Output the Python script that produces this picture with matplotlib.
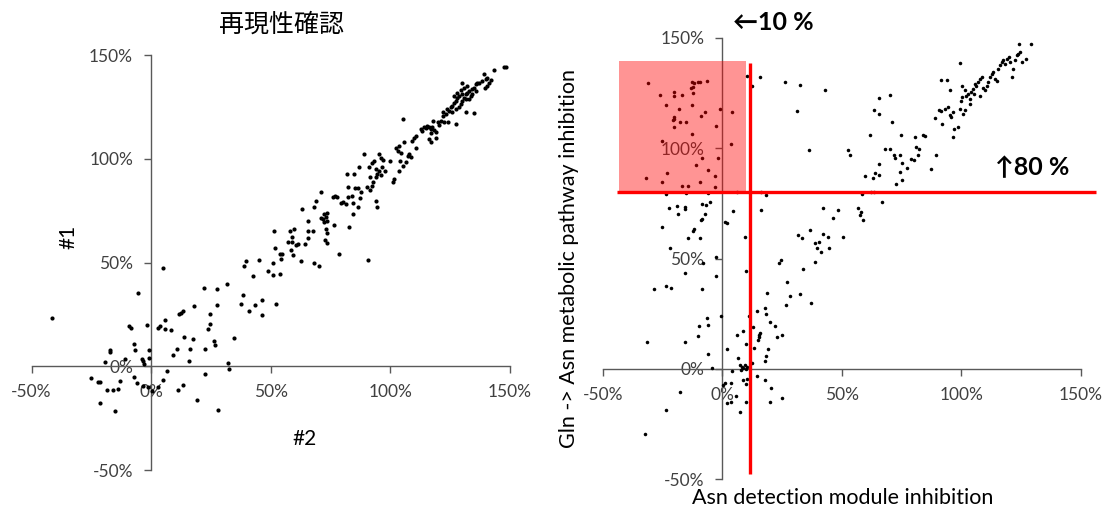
import matplotlib
matplotlib.use("Agg")
import matplotlib.pyplot as plt
from matplotlib.patches import Rectangle

plt.rcParams['font.family'] = ['Lato', 'Noto Sans CJK JP', 'DejaVu Sans']

# Shared axis ticks (percent)
TICKS = [-50, 0, 50, 100, 150]
TICK_LABELS = ['-50%', '0%', '50%', '100%', '150%']

# Reproducibility check: replicate #2 (x) vs replicate #1 (y), in %
rep2 = [
    4.9, -5.6, -41.5, -9.1, -8.5, -1.8, 2.8, 3.9, 5.8, 5.6, 8.1, 11.5, 12.5, 13.2, 18.1,
    22.3, 27.6, 31.6, 24.8, 24.8, 23.6, 27.6, 38.2, 37.4, 41.0, 43.5, 42.4, 39.0, 39.7, 44.9,
    13.8, 17.4, 26.4, 26.8, 34.8, 10.7, 16.4, 22.7, 9.2, 16.0, 32.1, 32.7, 6.7, 4.9, 13.2,
    11.3, 22.7, 19.0, 28.0, -1.0, -1.0, -3.9, -3.5, -2.8, -7.0, -6.6, -17.0, -17.0, -11.1,
    -19.1, -7.0, -5.8, -3.2, -1.4, 0.4, 2.8, -13.2, -13.8, -16.0, -18.5, -25.3, -22.0, -21.2,
    -21.2, -15.3,
    46.2, 46.2, 52.4, 48.9, 50.9, 54.0, 50.9, 53.9, 54.5, 54.3, 51.4, 51.6, 58.2, 59.8, 58.9,
    57.3, 58.7, 60.5, 61.5, 58.5, 59.4, 62.5, 62.9, 65.5, 65.7, 67.8, 65.7, 64.4, 68.2, 70.3,
    68.2, 69.1, 71.2, 73.5, 72.4, 71.0, 71.9, 73.1, 72.4, 73.7, 73.1, 73.7, 72.8, 73.5, 76.5,
    78.6, 82.8, 76.1, 77.0, 77.7, 79.3, 80.3, 81.4, 82.3, 83.9, 84.5, 86.4, 84.3, 82.4, 85.3,
    86.4, 87.9, 87.5, 81.8, 84.9, 89.1, 87.0, 90.4, 91.4, 92.5, 92.8, 91.6, 94.2, 94.4, 90.7,
    91.1, 92.3, 93.2, 95.3, 96.0, 97.1, 93.9, 95.3, 96.4, 94.6, 96.0, 97.8, 99.8, 93.9, 100.9,
    101.5, 103.4,
    102.3, 103.0, 104.4, 103.4, 105.8, 104.0, 105.1, 106.5, 107.2, 107.9, 108.6, 105.1, 109.2,
    109.9, 110.6, 110.9,
    112.7, 113.4, 114.1, 114.8, 115.5, 116.2, 116.9, 117.6, 118.3, 119.0, 116.9, 116.2, 116.9,
    119.0, 117.9, 119.7, 121.1, 122.5, 123.9, 121.8, 120.3, 127.6,
    121.8, 123.4, 124.6, 125.3, 125.9, 126.6, 127.3, 128.0, 128.7, 129.4, 130.1, 130.8, 131.5,
    132.2, 132.9, 133.6, 134.3, 135.0, 135.7, 136.4, 123.8, 125.7, 127.3, 128.7, 130.1, 131.5,
    132.9, 134.3, 135.7, 126.6, 128.0, 129.4, 130.8, 132.2, 131.8, 135.0, 129.9,
    137.1, 138.5, 139.9, 139.2, 140.5, 141.2, 142.0, 140.5, 139.5, 143.3, 147.5, 148.2,
]
rep1 = [
    47.4, 35.4, 23.4, 19.2, 18.6, 19.7, 18.6, 19.4, 22.1, 18.1, 17.3, 25.0, 25.8, 26.4, 28.8,
    37.8, 37.2, 39.8, 25.3, 20.5, 18.1, 29.5, 34.5, 30.1, 26.4, 29.5, 43.3, 48.1, 50.5, 51.0,
    14.3, 13.1, 12.2, 10.2, 13.8, 8.3, 8.3, 8.3, 5.3, 2.4, 1.8, -1.3, -2.4, -6.7, -9.1,
    -11.4, -3.7, -16.3, -21.2, 7.7, 4.2, 3.7, 2.5, 1.0, 10.9, 7.7, 7.7, 6.7, 3.7,
    1.9, -5.1, -8.0, -9.5, -9.9, -12.0, -9.9, -7.2, -11.1, -11.4, -11.4, -5.9, -7.8, -7.8,
    -17.5, -21.6,
    31.7, 24.7, 30.1, 45.7, 43.9, 44.4, 49.9, 54.2, 54.2, 51.6, 65.4, 57.1, 65.4, 66.0, 62.5,
    60.1, 60.1, 58.5, 59.0, 55.8, 53.4, 50.5, 75.6, 69.9, 65.4, 65.4, 62.0, 59.0, 49.9, 48.1,
    76.9, 79.8, 84.1, 74.0, 73.4, 71.5, 70.8, 71.8, 69.4, 70.2, 66.2, 64.3, 60.9, 59.6, 67.9,
    54.2, 67.3, 81.4, 82.2, 81.7, 78.7, 79.3, 78.2, 81.4, 82.2, 78.7, 76.9, 73.4, 86.5, 85.9,
    85.9, 84.1, 81.0, 92.6, 92.6, 102.3, 96.2, 86.2, 85.0, 87.0, 88.6, 91.3, 79.8, 76.9, 51.0,
    96.2, 98.1, 99.0, 102.3, 100.6, 99.4, 95.1, 94.2, 95.8, 92.6, 92.2, 94.2, 98.7, 91.0, 88.6,
    90.2, 94.2,
    105.4, 103.8, 103.0, 106.3, 108.3, 99.0, 96.6, 98.2, 101.4, 102.3, 101.0, 119.1, 108.7,
    110.2, 111.1, 105.4,
    114.3, 113.5, 115.4, 114.8, 115.9, 115.1, 114.3, 115.4, 113.8, 112.7, 112.2, 109.5, 107.9,
    110.0, 118.3, 117.5, 118.0, 117.5, 117.5, 120.7, 116.3, 116.7,
    122.3, 121.5, 123.1, 124.7, 125.5, 127.1, 127.9, 129.5, 130.3, 126.3, 127.9, 129.5, 131.1,
    131.9, 132.7, 130.3, 131.4, 134.3, 135.9, 136.7, 123.9, 122.3, 123.9, 124.7, 131.1, 128.7,
    128.7, 133.5, 132.7, 130.3, 131.9, 133.0, 134.0, 135.1, 122.3, 122.0, 136.4,
    136.7, 137.5, 138.3, 140.7, 139.1, 136.7, 137.8, 135.1, 134.3, 142.6, 144.2, 144.2,
]

# Asn detection module inhibition (x) vs Gln -> Asn pathway inhibition (y), in %
asn = [
    -31.1, -25.9, -23.7, -20.3, -20.0, -16.8, -17.9, -20.3, -20.0, -20.6, -17.5, -15.1, -20.0,
    -12.6, -11.9, -12.2, -12.9, -10.1, -9.1, -6.5, -12.2, -12.6, -7.3, -8.8, -1.1, 4.3, -2.8,
    -12.6, 3.5, -25.0, -8.4, -1.7, -10.9, -5.9, -23.1, -31.8, -25.2, -3.1, -9.1, -16.8, -14.3,
    -3.1,
    -23.7, -15.1, -5.9, 6.3, 10.5, 12.6, 15.8, -22.1, -18.9, -15.7, -15.7, -18.5, -8.4, -6.7,
    -4.9, -7.3, -8.8, -8.4, -25.0, -12.4, -11.6, -14.3, -9.1, 1.1, 2.1, 4.6, 9.4, -21.7, -2.8,
    -8.2, -15.7, -2.8, 10.1, -28.4, -23.7, -21.6, -8.4, -6.3, -5.9, -9.7, -10.1, -0.7, -15.7,
    -31.5, -5.9, -4.2, 2.1, 6.3, 8.8, 6.7, 7.4, 8.4, 9.4, 8.8, 9.8, 10.5, 8.0, 10.1, 11.1,
    13.0, 13.3, 12.6, 14.7, 15.4, 15.5, 15.1, 15.8, 17.8, 18.5, 18.9, 19.3, 18.5, 17.8, 20.0,
    22.0, 22.9, 25.2, 26.9, 28.4, 32.5, 27.3, 23.8, 24.5,
    1.0, 0.4, 3.5, 5.6, 2.1, 3.5, 7.4, 9.9, 8.8, 9.9, 10.5, 14.7, 17.8, 20.6, 20.0, 25.2,
    -17.5, -23.7, -32.5, 3.9,
    36.4, 52.5, 53.6, 68.3, 70.4, 71.8, 72.5, 74.5, 75.2, 77.3, 78.8, 80.3, 81.9, 82.2, 74.2,
    75.2, 72.8, 89.3, 87.2, 65.5, 59.9, 63.0, 64.1, 65.8, 62.3, 63.4, 58.4, 16.1, 18.2, 66.8,
    16.1, 56.7, 58.1, 57.7, 58.8, 42.0, 48.3, 46.2, 36.8, 31.9, 33.2, 42.0, 44.1, 50.4, 38.9,
    40.6, 39.5, 41.4, 44.7, 34.0, 38.8, 37.2,
    89.2, 90.6, 91.4, 92.0, 93.4, 94.5, 95.2, 95.9, 96.6, 97.1, 96.6, 98.7, 99.4, 99.9, 100.8,
    101.5, 100.4, 101.8, 102.9, 103.6, 104.3, 105.0, 105.7, 106.4, 107.1, 107.8, 108.5, 109.2,
    109.9, 110.6, 111.3, 112.0, 112.7, 113.4, 114.1, 114.8, 115.5, 116.2, 116.9, 117.6, 118.3,
    119.0, 120.1, 120.4, 121.1, 121.8, 122.5, 123.2, 123.9, 124.6, 125.3, 127.0, 124.2, 129.3,
    99.4, 91.4, 94.1, 95.2, 100.4, 101.5, 103.6, 105.5, 107.8,
    74.9, 80.8, 84.0, 85.0, 81.2,
    26.4, 32.6, 43.1, 31.4, 65.6, 70.4, 63.4, 65.6, 70.9, 61.8,
]
gln = [
    129.4, 124.1, 119.7, 125.3, 123.8, 124.3, 117.9, 114.0, 113.3, 113.0, 112.1, 112.1, 109.5,
    129.9, 129.5, 127.6, 127.2, 129.9, 129.9, 130.3, 124.9, 119.7, 116.3, 114.4, 117.9, 116.3,
    109.9, 106.5, 102.1, 103.5, 95.7, 95.4, 92.4, 90.1, 89.0, 86.7, 84.9, 87.3, 84.5, 83.0,
    83.0, 82.5,
    79.2, 79.7, 79.7, 80.3, 132.6, 128.1, 132.3, 73.0, 74.0, 73.5, 72.3, 70.2, 74.6, 74.1,
    75.6, 70.2, 67.3, 67.8, 64.4, 62.5, 63.3, 59.5, 59.5, 66.7, 66.3, 71.4, 60.0, 55.0, 50.8,
    48.2, 43.6, 42.0, 44.2, 36.0, 37.5, 36.7, 36.0, 23.0, 20.0, 19.6, 15.1, 24.1, 12.1,
    12.1, 7.0, 0.6, 9.2, 15.4, 17.4, 5.1, 1.8, 1.1, 1.8, 0.3, -0.1, 0.8, -0.4, 11.3, 23.9,
    19.0, 9.4, 2.6, 26.4, 15.4, 14.4, 13.2, 16.2, 27.4, 25.1, 34.4, 9.2, 5.9, 3.6, 21.2,
    19.5, 14.4, 15.4, 28.8, 33.2, 33.9, 39.4, 47.9, 49.5,
    -6.2, -7.2, -6.2, -12.2, -15.6, -14.9, -19.7, -15.2, -5.0, -6.8, -4.7, -3.1, -5.0, -8.8,
    -15.2, -13.3, -10.6, -18.7, -29.3, -0.8,
    99.2, 99.2, 96.9, 99.7, 99.7, 96.9, 95.8, 96.9, 93.3, 91.2, 95.1, 94.7, 96.9, 99.7, 89.4,
    85.5, 83.8, 96.9, 90.6, 93.0, 87.3, 86.6, 88.6, 87.9, 80.3, 80.3, 79.2, 80.0, 78.8, 75.5,
    72.0, 73.1, 71.3, 69.6, 67.5, 73.1, 71.9, 68.5, 63.0, 60.6, 59.5, 61.3, 59.9, 59.9, 57.2,
    57.6, 54.7, 53.0, 54.7, 45.3, 48.6, 30.0,
    113.6, 117.4, 116.8, 111.0, 117.8, 118.6, 115.1, 114.1, 116.3, 108.7, 105.0, 109.5, 117.8,
    121.2, 115.6, 117.5, 123.1, 123.9, 124.7, 122.4, 125.7, 126.9, 129.2, 128.1, 130.0, 131.5,
    132.2, 127.2, 126.2, 128.4, 130.0, 132.2, 133.8, 134.5, 131.5, 130.3, 136.0, 137.5, 139.1,
    139.8, 138.3, 140.6, 141.3, 139.1, 132.2, 136.0, 139.8, 142.1, 142.8, 143.6, 139.1, 140.6,
    147.4, 147.4,
    138.6, 130.7, 131.0, 126.5, 128.4, 126.2, 120.1, 124.7, 123.9,
    105.9, 104.9, 106.0, 105.4, 100.7,
    130.0, 128.8, 126.6, 116.8, 122.7, 124.2, 117.4, 115.6, 111.8, 106.2,
]

# Selection thresholds and guide lines on the right panel
CUT_X = 10            # Asn detection inhibition below 10 %
CUT_Y = 80            # pathway inhibition above 80 %
SEL_X0, SEL_Y1 = -43, 139.5
VLINE_X, VLINE_Y = 11.8, (-47.6, 138.8)
HLINE_X = (-44.2, 156.4)

AXIS_COLOR = '#595959'
TEXT_COLOR = '#404040'

W, H = 1106, 511
fig = plt.figure(figsize=(W / 100, H / 100), dpi=100)
fig.patch.set_facecolor('white')


def style(ax):
    ax.set_xlim(-50, 150)
    ax.set_ylim(-50, 150)
    ax.patch.set_visible(False)
    for s in ('top', 'right'):
        ax.spines[s].set_visible(False)
    for s in ('left', 'bottom'):
        ax.spines[s].set_position(('data', 0))
        ax.spines[s].set_color(AXIS_COLOR)
        ax.spines[s].set_linewidth(1.0)
    ax.set_xticks(TICKS)
    ax.set_xticklabels(TICK_LABELS)
    ax.set_yticks(TICKS)
    ax.set_yticklabels(TICK_LABELS)
    ax.tick_params(direction='out', length=5, width=1.0, color=AXIS_COLOR,
                   labelcolor=TEXT_COLOR, labelsize=12.5, pad=8)


# Left panel: reproducibility
ax1 = fig.add_axes([31.5 / W, 41 / H, 478.5 / W, 415 / H])
style(ax1)
ax1.scatter(rep2, rep1, s=9, c='black', linewidths=0, zorder=3)

fig.text(282 / W, 1 - 24.5 / H, '再現性確認', ha='center', va='center',
         fontsize=18, color='black', family=['Noto Sans CJK JP'])
fig.text(68.5 / W, 1 - 237 / H, '#1', rotation=90, ha='center', va='center',
         fontsize=15, color='black')
fig.text(305 / W, 1 - 439 / H, '#2', ha='center', va='center',
         fontsize=15, color='black')

# Right panel: pathway vs detection module
ax2 = fig.add_axes([602.7 / W, 31.7 / H, 478 / W, 441.4 / H])
style(ax2)
ax2.scatter(asn, gln, s=6.5, c='black', linewidths=0, zorder=3)

ax2.add_patch(Rectangle((SEL_X0, CUT_Y), CUT_X - SEL_X0, SEL_Y1 - CUT_Y,
                        facecolor='red', alpha=0.42, edgecolor='none',
                        zorder=4, clip_on=False))
ax2.plot([VLINE_X, VLINE_X], list(VLINE_Y), color='red', lw=2.4,
         solid_capstyle='butt', zorder=5, clip_on=False)
ax2.plot(list(HLINE_X), [CUT_Y, CUT_Y], color='red', lw=2.4,
         solid_capstyle='butt', zorder=5, clip_on=False)

fig.text(733 / W, 1 - 22.3 / H, f'←{CUT_X} %', ha='left', va='center',
         fontsize=18, fontweight='bold', color='black')
fig.text(995 / W, 1 - 167.5 / H, f'↑{CUT_Y} %', ha='left', va='center',
         fontsize=18, fontweight='bold', color='black')

fig.text(569 / W, 1 - 258.5 / H, 'Gln -> Asn metabolic pathway inhibition',
         rotation=90, ha='center', va='center', fontsize=15.5, color='black')
fig.text(842.7 / W, 1 - 498 / H, 'Asn detection module inhibition',
         ha='center', va='center', fontsize=15.5, color='black')

fig.savefig('out.png', dpi=100, facecolor='white')
